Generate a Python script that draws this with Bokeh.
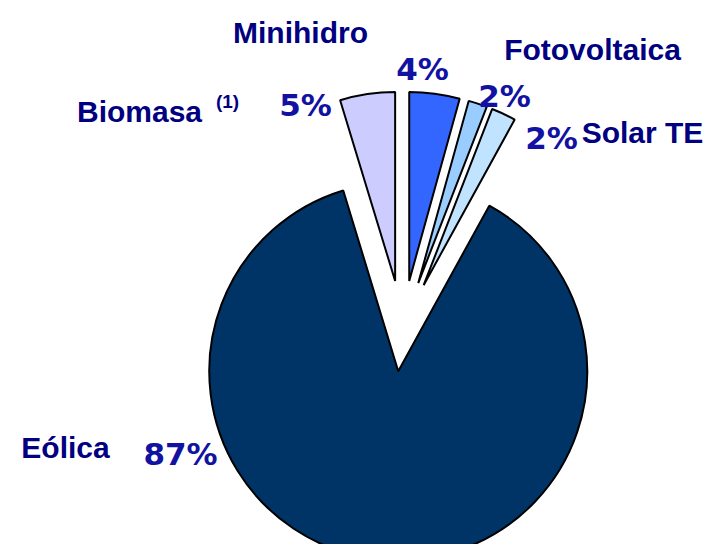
import math
from bokeh.plotting import figure
from bokeh.models import ColumnDataSource, Range1d
from bokeh.core.properties import value
from bokeh.embed import file_html
from bokeh.resources import INLINE

# ---- data ----
categories = ["Minihidro", "Fotovoltaica", "Solar TE", "Eólica", "Biomasa"]
shares = [4.3, 1.6, 2.1, 87.3, 4.7]
pct_labels = ["4%", "2%", "2%", "87%", "5%"]
footnote = "(1)"

# ---- styles ----
colors = ["#3366FF", "#99CCFF", "#C0E4FF", "#003366", "#CCCCFF"]
explode = [50, 50, 50, 41, 50]
radius = 189
center = (402, -330)
name_color = "#000080"
pct_color = "#1212A2"

# label layout (pixel positions: centre x, baseline y)
name_pos = [(300, 32), (592, 49), (642, 132), (65, 447), (139, 111)]
pct_pos = [(422, 68), (504, 95), (551, 137), (180, 453), (305, 104)]

W, H = 707, 544
p = figure(width=W, height=H, output_backend="svg", toolbar_location=None,
           x_range=Range1d(0, W), y_range=Range1d(-H, 0),
           min_border=0, outline_line_color=None)
p.axis.visible = False
p.grid.visible = False
p.background_fill_color = "white"
p.border_fill_color = "white"

total = sum(shares)
xs, ys, starts, ends = [], [], [], []
cum = 0.0
for s, d in zip(shares, explode):
    f0 = cum / total
    f1 = (cum + s) / total
    fm = (f0 + f1) / 2
    cum += s
    xs.append(center[0] + d * math.sin(2 * math.pi * fm))
    ys.append(center[1] + d * math.cos(2 * math.pi * fm))
    starts.append(math.pi / 2 - 2 * math.pi * f1)
    ends.append(math.pi / 2 - 2 * math.pi * f0)

src = ColumnDataSource(dict(x=xs, y=ys, start=starts, end=ends, color=colors,
                            name=categories, share=shares))
p.wedge(x="x", y="y", radius=radius, start_angle="start", end_angle="end",
        fill_color="color", line_color="black", line_width=2, source=src)

nsrc = ColumnDataSource(dict(x=[q[0] for q in name_pos], y=[-q[1] for q in name_pos],
                             text=categories))
p.text(x="x", y="y", text="text", source=nsrc, text_align="center",
       text_baseline="alphabetic", text_font=value("Liberation Sans"),
       text_font_style="bold", text_font_size="30px", text_color=name_color)

# superscript footnote for Biomasa
p.text(x=[227], y=[-101], text=[footnote], text_align="center",
       text_baseline="alphabetic", text_font=value("Liberation Sans"),
       text_font_style="bold", text_font_size="19px", text_color=name_color)

psrc = ColumnDataSource(dict(x=[q[0] for q in pct_pos], y=[-q[1] for q in pct_pos],
                             text=pct_labels))
p.text(x="x", y="y", text="text", source=psrc, text_align="center",
       text_baseline="alphabetic", text_font=value("DejaVu Sans"),
       text_font_style="bold", text_font_size="31px", text_color=pct_color)

open("out.html", "w").write(file_html(p, INLINE))
